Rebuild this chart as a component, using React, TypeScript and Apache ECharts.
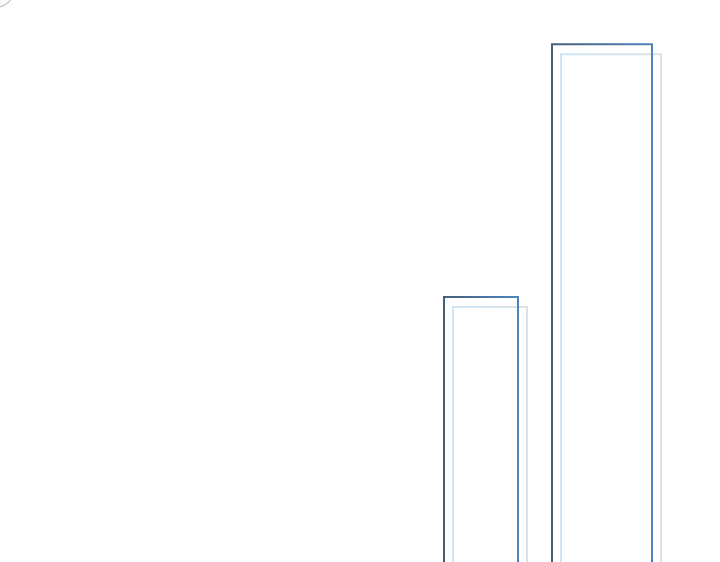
import React, { useEffect, useRef } from 'react'
import * as echarts from 'echarts'

// bin edges along the x axis and the bar heights
const binStarts = [44.4, 55.2]
const binEnds = [51.8, 65.2]
const barValues = [53.6, 93.1]

const App: React.FC = () => {
  const chartRef = useRef<HTMLDivElement>(null)

  useEffect(() => {
    if (!chartRef.current) return
    const chart = echarts.init(chartRef.current, undefined, { renderer: 'svg' })

    const data = barValues.map((v, i) => [binStarts[i], binEnds[i], v])

    const renderItem = (params: any, api: any) => {
      const start = api.coord([api.value(0), api.value(2)])
      const end = api.coord([api.value(1), 0])
      const x = start[0]
      const y = start[1]
      const w = end[0] - start[0]
      const h = end[1] - start[1]
      return {
        type: 'group',
        children: [
          {
            type: 'rect',
            shape: { x: x + 9, y: y + 10, width: w, height: h },
            style: {
              fill: 'none',
              lineWidth: 2,
              stroke: new echarts.graphic.LinearGradient(0, 0, 1, 0, [
                { offset: 0, color: '#cde6f6' },
                { offset: 1, color: '#dde1e5' }
              ])
            }
          },
          {
            type: 'rect',
            shape: { x, y, width: w, height: h },
            style: {
              fill: 'none',
              lineWidth: 2,
              stroke: new echarts.graphic.LinearGradient(0, 0, 1, 0, [
                { offset: 0, color: '#45607c' },
                { offset: 1, color: '#4e84bd' }
              ])
            }
          }
        ]
      }
    }

    chart.setOption({
      animation: false,
      backgroundColor: '#ffffff',
      grid: { left: 0, right: 0, top: 0, bottom: 0 },
      xAxis: { type: 'value', min: 0, max: 72, show: false },
      yAxis: { type: 'value', min: 0, max: 100, show: false },
      graphic: [
        {
          type: 'circle',
          shape: { cx: -3, cy: -9, r: 16 },
          style: { fill: '#fafafa', stroke: '#c4c4c4', lineWidth: 1.2 },
          silent: true
        }
      ],
      series: [
        {
          type: 'custom',
          renderItem,
          encode: { x: [0, 1], y: 2 },
          data
        }
      ]
    })

    return () => chart.dispose()
  }, [])

  return (
    <div style={{ position: 'absolute', left: 0, top: 0, width: 720, height: 562, overflow: 'hidden' }}>
      <div ref={chartRef} style={{ width: 720, height: 640 }} />
    </div>
  )
}

export default App
